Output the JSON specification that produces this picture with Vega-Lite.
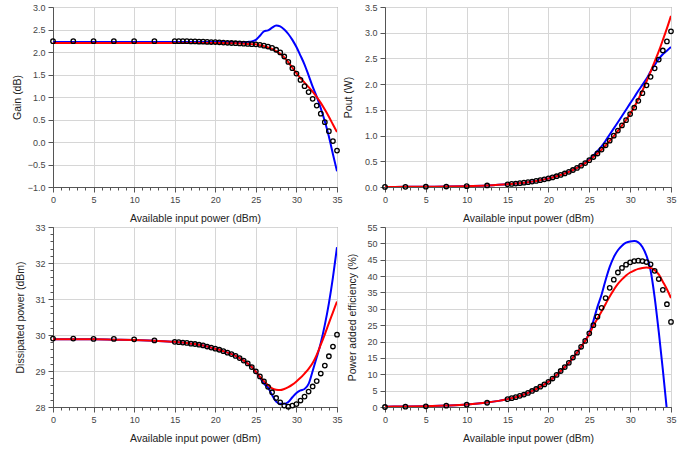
{
  "$schema": "https://vega.github.io/schema/vega-lite/v6.json",
  "padding": {"left": 11, "top": 2, "right": 5, "bottom": 5},
  "bounds": "flush",
  "columns": 2,
  "spacing": {"row": 40, "column": 48},
  "config": {
    "font": "Liberation Sans",
    "view": {"stroke": "#707070", "strokeWidth": 1},
    "axis": {
      "labelFont": "Liberation Sans", "labelFontSize": 9, "labelColor": "#444",
      "titleFont": "Liberation Sans", "titleFontSize": 10.5, "titleFontWeight": "normal", "titleColor": "#222",
      "gridColor": "#d6d6d6", "gridWidth": 1, "domainColor": "#555", "tickColor": "#555",
      "tickSize": 5, "labelPadding": 3, "titlePadding": 9, "labelFlush": false, "labelOverlap": false
    }
  },
  "datasets": {
    "gain": [
      {"x":0,"m":2.24,"r":2.2,"b":2.22},{"x":2.5,"m":2.24,"r":2.2,"b":2.22},{"x":5,"m":2.24,"r":2.2,"b":2.22},{"x":7.5,"m":2.24,"r":2.2,"b":2.22},
      {"x":10,"m":2.24,"r":2.2,"b":2.22},{"x":12.5,"m":2.24,"r":2.2,"b":2.22},{"x":15,"m":2.24,"r":2.2,"b":2.22},{"x":15.5,"m":2.24,"r":2.2,"b":2.22},
      {"x":16,"m":2.24,"r":2.2,"b":2.22},{"x":16.5,"m":2.24,"r":2.2,"b":2.22},{"x":17,"m":2.235,"r":2.2,"b":2.22},{"x":17.5,"m":2.235,"r":2.2,"b":2.22},
      {"x":18,"m":2.23,"r":2.2,"b":2.22},{"x":18.5,"m":2.23,"r":2.2,"b":2.22},{"x":19,"m":2.225,"r":2.2,"b":2.22},{"x":19.5,"m":2.22,"r":2.2,"b":2.22},
      {"x":20,"m":2.22,"r":2.2,"b":2.22},{"x":20.5,"m":2.215,"r":2.199,"b":2.22},{"x":21,"m":2.21,"r":2.198,"b":2.22},{"x":21.5,"m":2.205,"r":2.197,"b":2.22},
      {"x":22,"m":2.2,"r":2.195,"b":2.22},{"x":22.5,"m":2.195,"r":2.193,"b":2.22},{"x":23,"m":2.19,"r":2.19,"b":2.22},{"x":23.5,"m":2.185,"r":2.185,"b":2.22},
      {"x":24,"m":2.18,"r":2.18,"b":2.225},{"x":24.5,"m":2.175,"r":2.175,"b":2.235},{"x":25,"m":2.17,"r":2.17,"b":2.27},{"x":25.5,"m":2.16,"r":2.15,"b":2.36},
      {"x":26,"m":2.14,"r":2.13,"b":2.46},{"x":26.5,"m":2.12,"r":2.1,"b":2.48},{"x":27,"m":2.09,"r":2.07,"b":2.54},{"x":27.5,"m":2.05,"r":2.02,"b":2.59},
      {"x":28,"m":1.99,"r":1.96,"b":2.57},{"x":28.5,"m":1.9,"r":1.88,"b":2.5},{"x":29,"m":1.78,"r":1.77,"b":2.4},{"x":29.5,"m":1.64,"r":1.65,"b":2.27},
      {"x":30,"m":1.52,"r":1.53,"b":2.11},{"x":30.5,"m":1.38,"r":1.42,"b":1.92},{"x":31,"m":1.24,"r":1.32,"b":1.72},{"x":31.5,"m":1.11,"r":1.22,"b":1.48},
      {"x":32,"m":0.96,"r":1.12,"b":1.23},{"x":32.5,"m":0.81,"r":1.0,"b":1.01},{"x":33,"m":0.63,"r":0.87,"b":0.75},{"x":33.5,"m":0.44,"r":0.72,"b":0.46},
      {"x":34,"m":0.24,"r":0.56,"b":0.12},{"x":34.5,"m":0.02,"r":0.39,"b":-0.27},{"x":35,"m":-0.19,"r":0.22,"b":-0.65}
    ],
    "pout": [
      {"x":0,"m":0.0017,"r":0.0017,"b":0.0017},{"x":2.5,"m":0.003,"r":0.003,"b":0.003},{"x":5,"m":0.0053,"r":0.0052,"b":0.0053},{"x":7.5,"m":0.0094,"r":0.0093,"b":0.0094},
      {"x":10,"m":0.0167,"r":0.0166,"b":0.0167},{"x":12.5,"m":0.0298,"r":0.0295,"b":0.0296},{"x":15,"m":0.053,"r":0.0525,"b":0.0527},{"x":15.5,"m":0.0594,"r":0.0589,"b":0.0592},
      {"x":16,"m":0.0667,"r":0.0661,"b":0.0664},{"x":16.5,"m":0.0748,"r":0.0741,"b":0.0745},{"x":17,"m":0.0838,"r":0.0832,"b":0.0836},{"x":17.5,"m":0.0941,"r":0.0933,"b":0.0938},
      {"x":18,"m":0.1054,"r":0.1047,"b":0.1052},{"x":18.5,"m":0.1183,"r":0.1175,"b":0.118},{"x":19,"m":0.1326,"r":0.1318,"b":0.1324},{"x":19.5,"m":0.1486,"r":0.1479,"b":0.1486},
      {"x":20,"m":0.1667,"r":0.166,"b":0.1667},{"x":20.5,"m":0.1868,"r":0.1862,"b":0.187},{"x":21,"m":0.2094,"r":0.2089,"b":0.2098},{"x":21.5,"m":0.2347,"r":0.2343,"b":0.2354},
      {"x":22,"m":0.263,"r":0.2627,"b":0.2641},{"x":22.5,"m":0.2948,"r":0.2947,"b":0.2963},{"x":23,"m":0.3304,"r":0.3304,"b":0.3325},{"x":23.5,"m":0.3703,"r":0.3703,"b":0.3731},
      {"x":24,"m":0.415,"r":0.415,"b":0.4191},{"x":24.5,"m":0.465,"r":0.465,"b":0.4712},{"x":25,"m":0.5212,"r":0.5212,"b":0.5333},{"x":25.5,"m":0.5834,"r":0.5821,"b":0.6109},
      {"x":26,"m":0.6516,"r":0.6501,"b":0.7015},{"x":26.5,"m":0.7278,"r":0.7244,"b":0.7907},{"x":27,"m":0.811,"r":0.8072,"b":0.8995},{"x":27.5,"m":0.9016,"r":0.8954,"b":1.0209},
      {"x":28,"m":0.9977,"r":0.9908,"b":1.1402},{"x":28.5,"m":1.0965,"r":1.0914,"b":1.2589},{"x":29,"m":1.1968,"r":1.194,"b":1.3804},{"x":29.5,"m":1.3002,"r":1.3032,"b":1.5031},
      {"x":30,"m":1.4191,"r":1.4223,"b":1.6255},{"x":30.5,"m":1.5417,"r":1.556,"b":1.7458},{"x":31,"m":1.6749,"r":1.7061,"b":1.8707},{"x":31.5,"m":1.8239,"r":1.8707,"b":1.9861},
      {"x":32,"m":1.977,"r":2.0512,"b":2.1038},{"x":32.5,"m":2.1429,"r":2.2387,"b":2.2439},{"x":33,"m":2.3067,"r":2.4378,"b":2.3714},{"x":33.5,"m":2.4774,"r":2.6364,"b":2.4889},
      {"x":34,"m":2.6546,"r":2.8576,"b":2.5823},{"x":34.5,"m":2.8313,"r":3.0832,"b":2.6485},{"x":35,"m":3.0269,"r":3.3266,"b":2.7227}
    ],
    "diss": [
      {"x":0,"m":29.9,"r":29.88,"b":29.88},{"x":2.5,"m":29.9,"r":29.88,"b":29.88},{"x":5,"m":29.89,"r":29.88,"b":29.88},{"x":7.5,"m":29.89,"r":29.87,"b":29.87},
      {"x":10,"m":29.88,"r":29.86,"b":29.86},{"x":12.5,"m":29.85,"r":29.84,"b":29.84},{"x":15,"m":29.81,"r":29.81,"b":29.81},{"x":15.5,"m":29.8,"r":29.8,"b":29.8},
      {"x":16,"m":29.79,"r":29.79,"b":29.79},{"x":16.5,"m":29.78,"r":29.78,"b":29.78},{"x":17,"m":29.76,"r":29.76,"b":29.76},{"x":17.5,"m":29.75,"r":29.75,"b":29.75},
      {"x":18,"m":29.73,"r":29.73,"b":29.73},{"x":18.5,"m":29.71,"r":29.71,"b":29.71},{"x":19,"m":29.68,"r":29.68,"b":29.68},{"x":19.5,"m":29.65,"r":29.65,"b":29.65},
      {"x":20,"m":29.62,"r":29.62,"b":29.62},{"x":20.5,"m":29.59,"r":29.59,"b":29.59},{"x":21,"m":29.55,"r":29.55,"b":29.55},{"x":21.5,"m":29.51,"r":29.51,"b":29.51},
      {"x":22,"m":29.47,"r":29.47,"b":29.47},{"x":22.5,"m":29.42,"r":29.42,"b":29.42},{"x":23,"m":29.36,"r":29.36,"b":29.36},{"x":23.5,"m":29.29,"r":29.29,"b":29.29},
      {"x":24,"m":29.21,"r":29.21,"b":29.21},{"x":24.5,"m":29.11,"r":29.11,"b":29.11},{"x":25,"m":28.99,"r":28.98,"b":28.98},{"x":25.5,"m":28.85,"r":28.84,"b":28.82},
      {"x":26,"m":28.71,"r":28.72,"b":28.65},{"x":26.5,"m":28.56,"r":28.61,"b":28.54},{"x":27,"m":28.41,"r":28.52,"b":28.33},{"x":27.5,"m":28.25,"r":28.48,"b":28.15},
      {"x":28,"m":28.13,"r":28.47,"b":28.09},{"x":28.5,"m":28.04,"r":28.5,"b":28.09},{"x":29,"m":28.01,"r":28.55,"b":28.14},{"x":29.5,"m":28.04,"r":28.62,"b":28.27},
      {"x":30,"m":28.08,"r":28.71,"b":28.39},{"x":30.5,"m":28.18,"r":28.81,"b":28.46},{"x":31,"m":28.29,"r":28.93,"b":28.5},{"x":31.5,"m":28.43,"r":29.06,"b":28.64},
      {"x":32,"m":28.57,"r":29.22,"b":29.0},{"x":32.5,"m":28.72,"r":29.45,"b":29.38},{"x":33,"m":28.93,"r":29.73,"b":29.78},{"x":33.5,"m":29.15,"r":30.02,"b":30.28},
      {"x":34,"m":29.41,"r":30.33,"b":30.88},{"x":34.5,"m":29.68,"r":30.63,"b":31.6},{"x":35,"m":30.01,"r":30.93,"b":32.44}
    ],
    "pae": [
      {"x":0,"m":0.0,"r":0.1,"b":0.1},{"x":2.5,"m":0.1,"r":0.15,"b":0.15},{"x":5,"m":0.2,"r":0.25,"b":0.25},{"x":7.5,"m":0.4,"r":0.45,"b":0.45},
      {"x":10,"m":0.7,"r":0.75,"b":0.75},{"x":12.5,"m":1.3,"r":1.35,"b":1.35},{"x":15,"m":2.4,"r":2.4,"b":2.4},{"x":15.5,"m":2.7,"r":2.7,"b":2.7},
      {"x":16,"m":3.0,"r":3.0,"b":3.0},{"x":16.5,"m":3.4,"r":3.4,"b":3.4},{"x":17,"m":3.8,"r":3.8,"b":3.8},{"x":17.5,"m":4.3,"r":4.3,"b":4.3},
      {"x":18,"m":4.9,"r":4.9,"b":4.9},{"x":18.5,"m":5.5,"r":5.5,"b":5.5},{"x":19,"m":6.2,"r":6.2,"b":6.2},{"x":19.5,"m":6.9,"r":6.9,"b":6.9},
      {"x":20,"m":7.7,"r":7.7,"b":7.7},{"x":20.5,"m":8.7,"r":8.7,"b":8.7},{"x":21,"m":9.8,"r":9.8,"b":9.8},{"x":21.5,"m":11.0,"r":11.0,"b":11.0},
      {"x":22,"m":12.2,"r":12.2,"b":12.2},{"x":22.5,"m":13.5,"r":13.5,"b":13.5},{"x":23,"m":15.1,"r":15.1,"b":15.1},{"x":23.5,"m":16.6,"r":16.6,"b":16.6},
      {"x":24,"m":18.4,"r":18.4,"b":18.4},{"x":24.5,"m":20.2,"r":20.2,"b":20.3},{"x":25,"m":22.5,"r":22.3,"b":22.6},{"x":25.5,"m":25.0,"r":24.8,"b":26.3},
      {"x":26,"m":27.6,"r":27.0,"b":30.6},{"x":26.5,"m":30.3,"r":29.2,"b":34.3},{"x":27,"m":33.3,"r":31.5,"b":38.8},{"x":27.5,"m":36.4,"r":33.8,"b":42.8},
      {"x":28,"m":38.9,"r":35.8,"b":45.8},{"x":28.5,"m":41.1,"r":37.6,"b":47.9},{"x":29,"m":42.5,"r":39.0,"b":49.3},{"x":29.5,"m":43.5,"r":40.2,"b":50.2},
      {"x":30,"m":44.2,"r":41.1,"b":50.6},{"x":30.5,"m":44.6,"r":41.7,"b":50.7},{"x":31,"m":44.7,"r":42.2,"b":50.3},{"x":31.5,"m":44.6,"r":42.5,"b":48.9},
      {"x":32,"m":44.3,"r":42.6,"b":46.2},{"x":32.5,"m":43.6,"r":42.5,"b":41.8},{"x":33,"m":41.6,"r":41.8,"b":33.5},{"x":33.5,"m":39.1,"r":40.5,"b":23.0},
      {"x":34,"m":35.8,"r":38.3,"b":11.4},{"x":34.5,"m":31.4,"r":36.0,"b":-1.0},{"x":35,"m":26.0,"r":33.3}
    ]
  },
  "concat": [
    {
      "width": 284, "height": 180,
      "data": {"name": "gain"},
      "resolve": {"axis": {"x": "independent", "y": "independent"}},
      "layer": [
        {"mark": {"type": "line", "color": "#0000ff", "strokeWidth": 2, "interpolate": "monotone", "clip": true},
         "encoding": {
           "x": {"field": "x", "type": "quantitative", "scale": {"domain": [0, 35], "nice": false}, "axis": {"orient": "bottom", "values": [0,5,10,15,20,25,30,35], "title": "Available input power (dBm)"}},
           "y": {"field": "b", "type": "quantitative", "scale": {"domain": [-1, 3], "nice": false, "zero": false}, "axis": {"orient": "left", "values": [-1,-0.5,0,0.5,1,1.5,2,2.5,3], "format": ".1f", "title": "Gain (dB)", "titlePadding": 5}}}},
        {"mark": {"type": "line", "color": "#ff0000", "strokeWidth": 2, "interpolate": "monotone", "clip": true},
         "encoding": {
           "x": {"field": "x", "type": "quantitative", "scale": {"domain": [0, 35], "nice": false}, "axis": null},
           "y": {"field": "r", "type": "quantitative", "scale": {"domain": [-1, 3], "nice": false, "zero": false}, "axis": null}}},
        {"mark": {"type": "point", "filled": false, "color": "#000000", "size": 20, "strokeWidth": 1.3, "opacity": 1},
         "encoding": {
           "x": {"field": "x", "type": "quantitative", "scale": {"domain": [0, 35], "nice": false}, "axis": {"orient": "bottom", "values": [0,1,2,3,4,5,6,7,8,9,10,11,12,13,14,15,16,17,18,19,20,21,22,23,24,25,26,27,28,29,30,31,32,33,34,35], "labels": false, "grid": false, "domain": false, "tickSize": 3, "title": null}},
           "y": {"field": "m", "type": "quantitative", "scale": {"domain": [-1, 3], "nice": false, "zero": false}, "axis": null}}}
      ]
    },
    {
      "width": 286, "height": 180,
      "data": {"name": "pout"},
      "resolve": {"axis": {"x": "independent", "y": "independent"}},
      "layer": [
        {"mark": {"type": "line", "color": "#0000ff", "strokeWidth": 2, "interpolate": "monotone", "clip": true},
         "encoding": {
           "x": {"field": "x", "type": "quantitative", "scale": {"domain": [0, 35], "nice": false}, "axis": {"orient": "bottom", "values": [0,5,10,15,20,25,30,35], "title": "Available input power (dBm)"}},
           "y": {"field": "b", "type": "quantitative", "scale": {"domain": [0, 3.5], "nice": false}, "axis": {"orient": "left", "values": [0,0.5,1,1.5,2,2.5,3,3.5], "format": ".1f", "title": "Pout (W)", "titlePadding": 11}}}},
        {"mark": {"type": "line", "color": "#ff0000", "strokeWidth": 2, "interpolate": "monotone", "clip": true},
         "encoding": {
           "x": {"field": "x", "type": "quantitative", "scale": {"domain": [0, 35], "nice": false}, "axis": null},
           "y": {"field": "r", "type": "quantitative", "scale": {"domain": [0, 3.5], "nice": false}, "axis": null}}},
        {"mark": {"type": "point", "filled": false, "color": "#000000", "size": 20, "strokeWidth": 1.3, "opacity": 1},
         "encoding": {
           "x": {"field": "x", "type": "quantitative", "scale": {"domain": [0, 35], "nice": false}, "axis": {"orient": "bottom", "values": [0,1,2,3,4,5,6,7,8,9,10,11,12,13,14,15,16,17,18,19,20,21,22,23,24,25,26,27,28,29,30,31,32,33,34,35], "labels": false, "grid": false, "domain": false, "tickSize": 3, "title": null}},
           "y": {"field": "m", "type": "quantitative", "scale": {"domain": [0, 3.5], "nice": false}, "axis": null}}}
      ]
    },
    {
      "width": 284, "height": 180,
      "data": {"name": "diss"},
      "resolve": {"axis": {"x": "independent", "y": "independent"}},
      "layer": [
        {"mark": {"type": "line", "color": "#0000ff", "strokeWidth": 2, "interpolate": "monotone", "clip": true},
         "encoding": {
           "x": {"field": "x", "type": "quantitative", "scale": {"domain": [0, 35], "nice": false}, "axis": {"orient": "bottom", "values": [0,5,10,15,20,25,30,35], "title": "Available input power (dBm)"}},
           "y": {"field": "b", "type": "quantitative", "scale": {"domain": [28, 33], "nice": false, "zero": false}, "axis": {"orient": "left", "values": [28,29,30,31,32,33], "format": "d", "title": "Dissipated power (dBm)"}}}},
        {"mark": {"type": "line", "color": "#ff0000", "strokeWidth": 2, "interpolate": "monotone", "clip": true},
         "encoding": {
           "x": {"field": "x", "type": "quantitative", "scale": {"domain": [0, 35], "nice": false}, "axis": null},
           "y": {"field": "r", "type": "quantitative", "scale": {"domain": [28, 33], "nice": false, "zero": false}, "axis": null}}},
        {"mark": {"type": "point", "filled": false, "color": "#000000", "size": 20, "strokeWidth": 1.3, "opacity": 1},
         "encoding": {
           "x": {"field": "x", "type": "quantitative", "scale": {"domain": [0, 35], "nice": false}, "axis": {"orient": "bottom", "values": [0,1,2,3,4,5,6,7,8,9,10,11,12,13,14,15,16,17,18,19,20,21,22,23,24,25,26,27,28,29,30,31,32,33,34,35], "labels": false, "grid": false, "domain": false, "tickSize": 3, "title": null}},
           "y": {"field": "m", "type": "quantitative", "scale": {"domain": [28, 33], "nice": false, "zero": false}, "axis": {"orient": "left", "values": [28,28.2,28.4,28.6,28.8,29,29.2,29.4,29.6,29.8,30,30.2,30.4,30.6,30.8,31,31.2,31.4,31.6,31.8,32,32.2,32.4,32.6,32.8,33], "labels": false, "grid": false, "domain": false, "tickSize": 3, "title": null}}}}
      ]
    },
    {
      "width": 286, "height": 180,
      "data": {"name": "pae"},
      "resolve": {"axis": {"x": "independent", "y": "independent"}},
      "layer": [
        {"mark": {"type": "line", "color": "#0000ff", "strokeWidth": 2, "interpolate": "monotone", "clip": true},
         "encoding": {
           "x": {"field": "x", "type": "quantitative", "scale": {"domain": [0, 35], "nice": false}, "axis": {"orient": "bottom", "values": [0,5,10,15,20,25,30,35], "title": "Available input power (dBm)"}},
           "y": {"field": "b", "type": "quantitative", "scale": {"domain": [0, 55], "nice": false}, "axis": {"orient": "left", "values": [0,5,10,15,20,25,30,35,40,45,50,55], "format": "d", "title": "Power added efficiency (%)"}}}},
        {"mark": {"type": "line", "color": "#ff0000", "strokeWidth": 2, "interpolate": "monotone", "clip": true},
         "encoding": {
           "x": {"field": "x", "type": "quantitative", "scale": {"domain": [0, 35], "nice": false}, "axis": null},
           "y": {"field": "r", "type": "quantitative", "scale": {"domain": [0, 55], "nice": false}, "axis": null}}},
        {"mark": {"type": "point", "filled": false, "color": "#000000", "size": 20, "strokeWidth": 1.3, "opacity": 1},
         "encoding": {
           "x": {"field": "x", "type": "quantitative", "scale": {"domain": [0, 35], "nice": false}, "axis": {"orient": "bottom", "values": [0,1,2,3,4,5,6,7,8,9,10,11,12,13,14,15,16,17,18,19,20,21,22,23,24,25,26,27,28,29,30,31,32,33,34,35], "labels": false, "grid": false, "domain": false, "tickSize": 3, "title": null}},
           "y": {"field": "m", "type": "quantitative", "scale": {"domain": [0, 55], "nice": false}, "axis": null}}}
      ]
    }
  ]
}
